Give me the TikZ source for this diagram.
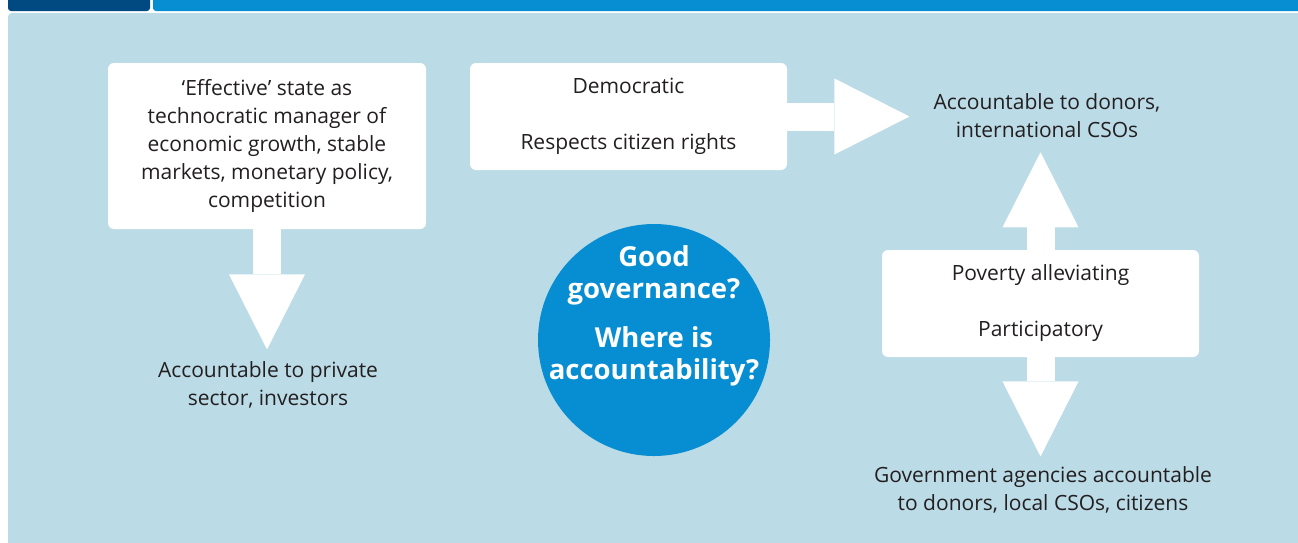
\documentclass[tikz,border=0pt]{standalone}
\usepackage{fontspec}
\setmainfont{Open Sans}
\usetikzlibrary{arrows.meta, positioning}

\definecolor{bgblue}{HTML}{BBDBE7}
\definecolor{midblue}{HTML}{078ED2}
\definecolor{navy}{HTML}{004A82}
\definecolor{txtgrey}{HTML}{231F20}

\tikzset{
  whitebox/.style={fill=white, rounded corners=6pt, align=center, text=txtgrey,
    font=\fontsize{21}{28}\selectfont, inner sep=0pt},
  plainlabel/.style={align=center, text=txtgrey, font=\fontsize{21}{28}\selectfont, inner sep=0pt},
  blockarrow/.style={draw=white, line width=28pt,
    -{Triangle[length=75pt, width=76pt, line width=0pt]}},
}

\begin{document}
\begin{tikzpicture}[x=1pt, y=-1pt]
\useasboundingbox (0,0) rectangle (1298,542);

% frame and title bars
\fill[white] (0,0) rectangle (1298,542);
\fill[navy, rounded corners=3pt] (8,-5) rectangle (150,11);
\fill[midblue, rounded corners=3pt] (153,-5) rectangle (1310,11);
\fill[bgblue, rounded corners=4pt] (8,13) rectangle (1310,550);

% boxes
\node[whitebox, minimum width=318pt, minimum height=166pt] (eff) at (267,146)
  {‘Effective’ state as\\technocratic manager of\\economic growth, stable\\markets, monetary policy,\\competition};
\node[whitebox, minimum width=317pt, minimum height=107pt] (demo) at (628.5,116.5)
  {Democratic\\[28pt]Respects citizen rights};
\node[whitebox, minimum width=317pt, minimum height=107pt] (pov) at (1040.5,303.5)
  {Poverty alleviating\\[28pt]Participatory};

% centre disc
\node[circle, fill=midblue, minimum size=232pt, inner sep=0pt] (good) at (654,340) {};
\node[align=center, text=white, inner sep=0pt, font=\bfseries\fontsize{27.5}{32}\selectfont] (goodtxt)
  at ([yshift=24pt]good.center) {Good\\governance?\\[17pt]Where is\\accountability?};

% outer labels
\node[plainlabel] (donors) at (1047,116) {Accountable to donors,\\international CSOs};
\node[plainlabel] (priv) at (268,385) {Accountable to private\\sector, investors};
\node[plainlabel] (govt) at (1043,490) {Government agencies accountable\\to donors, local CSOs, citizens};

% block arrows
\draw[blockarrow, shorten >=12pt] (eff.south) -- (eff.south |- priv.north);
\draw[blockarrow, shorten >=24pt] (demo.east) -- (demo.east -| donors.west);
\draw[blockarrow, shorten >=14pt] (pov.north) -- (pov.north |- donors.south);
\draw[blockarrow, shorten >=10pt] (pov.south) -- (pov.south |- govt.north);

\end{tikzpicture}
\end{document}
